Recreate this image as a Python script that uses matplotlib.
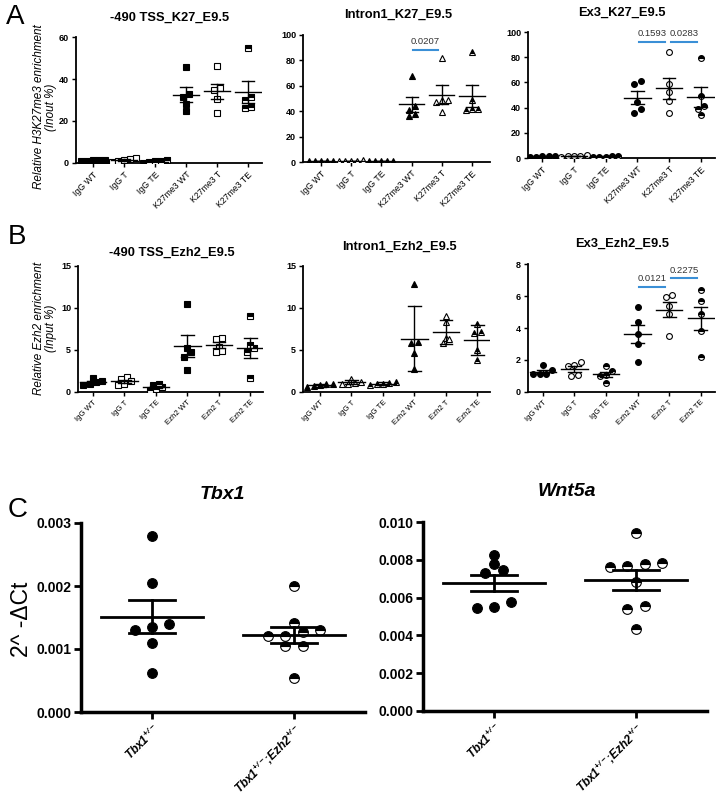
import numpy as np
import matplotlib
matplotlib.use("Agg")
import matplotlib.pyplot as plt

plt.rcParams['font.family'] = ['Liberation Sans', 'DejaVu Sans']
plt.rcParams['mathtext.fontset'] = 'custom'
plt.rcParams['mathtext.rm'] = 'Liberation Sans'
plt.rcParams['mathtext.it'] = 'Liberation Sans:italic:bold'
plt.rcParams['mathtext.bf'] = 'Liberation Sans:bold'

# ---------------- data ----------------
cats_A = ["IgG WT", "IgG T", "IgG TE", "K27me3 WT", "K27me3 T", "K27me3 TE"]
cats_B = ["IgG WT", "IgG T", "IgG TE", "Ezh2 WT", "Ezh2 T", "Ezh2 TE"]

A1_vals = [[1.5, 1.2, 1.0, 0.8, 1.3], [2.2, 1.8, 1.5, 0.5, 1.0], [1.2, 0.9, 0.3, 0.2, 0.8],
           [45.5, 33, 31.5, 28, 25], [46, 35.5, 35, 30.5, 24], [55, 31.5, 30, 26, 26.5]]
A2_vals = [[0.8, 0.6, 0.5, 0.4, 0.7], [1.2, 0.9, 0.7, 0.5, 1.0], [0.9, 0.7, 0.6, 0.5, 0.8],
           [68, 44, 41, 37.5, 36], [82, 48.5, 47.5, 48.5, 39], [86.5, 48.5, 41.5, 41, 42]]
A3_vals = [[1.5, 1.2, 1.0, 0.9, 1.3], [2.2, 1.9, 1.6, 0.5, 1.8], [1.4, 1.2, 1.1, 0.9, 1.0],
           [59, 61.5, 44.5, 36, 38.5], [84.5, 58.5, 52, 45, 36], [79, 49.5, 41.5, 39, 34.5]]
B1_vals = [[1.65, 1.25, 1.15, 0.9, 0.8], [1.8, 1.5, 1.3, 1.0, 0.8], [0.9, 0.8, 0.3, 0.2, 0.6],
           [10.5, 5.2, 4.8, 4.2, 2.6], [6.4, 6.3, 5.4, 4.9, 4.8], [9.0, 5.6, 5.2, 4.8, 1.7]]
B2_vals = [[1.0, 0.9, 0.8, 0.6, 0.7], [1.5, 1.2, 1.1, 0.9, 1.0], [1.2, 1.1, 1.0, 0.8, 0.9],
           [12.8, 5.9, 5.8, 4.6, 2.7], [9.0, 8.3, 6.4, 6.3, 5.8], [8.1, 7.1, 7.0, 5.0, 3.8]]
B3_vals = [[1.7, 1.35, 1.15, 1.1, 1.1], [1.85, 1.7, 1.6, 1.05, 1.0], [1.6, 1.3, 1.05, 1.0, 0.55],
           [5.3, 4.35, 3.65, 3.0, 1.85], [6.05, 5.95, 5.35, 4.9, 3.5], [6.4, 5.7, 4.9, 3.8, 2.2]]

sig_A2 = [("0.0207", 3, 4, 88)]
sig_A3 = [("0.1593", 3, 4, 92), ("0.0283", 4, 5, 92)]
sig_B3 = [("0.0121", 3, 4, 6.55), ("0.2275", 4, 5, 7.1)]

cats_C = [r"Tbx1$^{\mathregular{+/-}}$", r"Tbx1$^{\mathregular{+/-}}$;Ezh2$^{\mathregular{+/-}}$"]
C1_vals = [[0.0028, 0.00204, 0.0014, 0.00135, 0.0013, 0.00109, 0.00062],
           [0.002, 0.00142, 0.0013, 0.00127, 0.00121, 0.00121, 0.00104, 0.00104, 0.00054]]
C2_vals = [[0.00823, 0.00776, 0.00747, 0.00728, 0.00575, 0.0055, 0.00547],
           [0.00944, 0.00782, 0.00769, 0.0076, 0.0078, 0.0068, 0.00557, 0.00541, 0.00432]]

W, H = 720, 797
fig = plt.figure(figsize=(W / 100, H / 100), dpi=100)


def axpx(l, r, t, b):
    return fig.add_axes([l / W, 1 - b / H, (r - l) / W, (b - t) / H])


def swarm(vals, thresh, step):
    vals = np.asarray(vals, float)
    order = np.argsort(vals)
    offs = np.zeros(len(vals))
    clusters = []
    cur = [order[0]]
    for i in order[1:]:
        if vals[i] - vals[cur[0]] < thresh:
            cur.append(i)
        else:
            clusters.append(cur)
            cur = [i]
    clusters.append(cur)
    for c in clusters:
        k = len(c)
        for j, idx in enumerate(c):
            offs[idx] = (j - (k - 1) / 2) * step
    return offs


def style(kind):
    if kind == 0:
        return dict(markerfacecolor='black', markeredgecolor='black')
    if kind == 1:
        return dict(markerfacecolor='white', markeredgecolor='black')
    return dict(markerfacecolor='black', markeredgecolor='black', fillstyle='top',
                markerfacecoloralt='white')


def dot_panel(ax, groups, cats, ylim, yticks, marker, xlim, err='sem', kinds=None,
              ms=4.2, lw=1.0, mw=0.42, cw=0.2, step=0.2, tfrac=0.04, fs=6.3, yfs=6.5,
              spine_lw=1.3):
    for i, g in enumerate(groups):
        g = np.asarray(g, float)
        offs = swarm(g, tfrac * (ylim[1] - ylim[0]), step)
        k = kinds[i] if kinds else i % 3
        ax.plot(i + offs, g, linestyle='none', marker=marker, markersize=ms,
                markeredgewidth=0.8, zorder=3, **style(k))
        m = g.mean()
        e = g.std(ddof=1) / (np.sqrt(len(g)) if err == 'sem' else 1)
        ax.plot([i - mw, i + mw], [m, m], color='black', lw=lw, zorder=4)
        ax.plot([i, i], [m - e, m + e], color='black', lw=lw, zorder=4)
        ax.plot([i - cw, i + cw], [m + e, m + e], color='black', lw=lw, zorder=4)
        ax.plot([i - cw, i + cw], [m - e, m - e], color='black', lw=lw, zorder=4)
    ax.set_xlim(*xlim)
    ax.set_ylim(*ylim)
    ax.set_yticks(yticks)
    ax.set_xticks(range(len(cats)))
    ax.set_xticklabels(cats, rotation=45, ha='right', rotation_mode='anchor', fontsize=fs)
    for t in ax.get_yticklabels():
        t.set_fontsize(yfs)
        t.set_fontweight('bold')
    for s in ['top', 'right']:
        ax.spines[s].set_visible(False)
    for s in ['left', 'bottom']:
        ax.spines[s].set_linewidth(spine_lw)
    ax.tick_params(width=spine_lw * 0.8, length=3, pad=2)
    ax.patch.set_alpha(0)


def sig(ax, items, yr):
    for txt, a, b, y in items:
        x0, x1 = a + 0.05, b - 0.12
        ax.plot([x0, x1], [y, y], color='#3a8fd6', lw=1.5, clip_on=False)
        ax.text((x0 + x1) / 2, y + 0.03 * yr, txt, ha='center', va='bottom',
                fontsize=6.8, color='#333333', clip_on=False)


# ---- Panel A ----
a1 = axpx(76, 262, 37, 163)
dot_panel(a1, A1_vals, cats_A, (0, 60), [0, 20, 40, 60], 's', (-0.55, 5.45))
a2 = axpx(303, 490, 35, 162)
dot_panel(a2, A2_vals, cats_A, (0, 100), range(0, 101, 20), '^', (-0.6, 5.6))
sig(a2, sig_A2, 100)
a3 = axpx(528, 715, 32, 158)
dot_panel(a3, A3_vals, cats_A, (0, 100), range(0, 101, 20), 'o', (-0.45, 5.45))
sig(a3, sig_A3, 100)

# ---- Panel B ----
b1 = axpx(78, 263, 266, 392)
dot_panel(b1, B1_vals, cats_B, (0, 15), [0, 5, 10, 15], 's', (-0.47, 5.4), fs=5.6)
b2 = axpx(303, 490, 266, 392)
dot_panel(b2, B2_vals, cats_B, (0, 15), [0, 5, 10, 15], '^', (-0.54, 5.4), err='sd', fs=5.6)
b3 = axpx(528, 715, 264, 392)
dot_panel(b3, B3_vals, cats_B, (0, 8), [0, 2, 4, 6, 8], 'o', (-0.47, 5.45), fs=5.6)
sig(b3, sig_B3, 8)

# ---- Panel C ----
c1 = axpx(81, 365, 523, 712)
dot_panel(c1, C1_vals, cats_C, (0, 0.003), [0, 0.001, 0.002, 0.003], 'o', (-0.5, 1.5),
          kinds=[0, 2], ms=7, lw=2, mw=0.36, cw=0.165, step=0.12, tfrac=0.035,
          fs=8.5, yfs=10, spine_lw=2.5)
c2 = axpx(423, 707, 522, 711)
dot_panel(c2, C2_vals, cats_C, (0, 0.010), [0, 0.002, 0.004, 0.006, 0.008, 0.010], 'o',
          (-0.5, 1.5), kinds=[0, 2], ms=7, lw=2, mw=0.36, cw=0.165, step=0.12,
          tfrac=0.035, fs=8.5, yfs=10, spine_lw=2.5)
for ax in (c1, c2):
    ax.yaxis.set_major_formatter(matplotlib.ticker.FormatStrFormatter('%.3f'))
    for t in ax.get_xticklabels():
        t.set_fontweight('bold')
        t.set_fontstyle('italic')
    for t in ax.get_yticklabels():
        t.set_fontsize(10)
        t.set_fontweight('bold')
    ax.tick_params(length=5, pad=2)


def ftext(x, y, s, **kw):
    fig.text(x / W, 1 - y / H, s, **kw)


# titles
ftext(170, 18, "-490 TSS_K27_E9.5", ha='center', va='center', fontsize=9.3, fontweight='bold')
ftext(398, 15, "Intron1_K27_E9.5", ha='center', va='center', fontsize=9.3, fontweight='bold')
ftext(622, 13, "Ex3_K27_E9.5", ha='center', va='center', fontsize=9.3, fontweight='bold')
ftext(172, 253, "-490 TSS_Ezh2_E9.5", ha='center', va='center', fontsize=9.3, fontweight='bold')
ftext(399, 247, "Intron1_Ezh2_E9.5", ha='center', va='center', fontsize=9.3, fontweight='bold')
ftext(622, 244, "Ex3_Ezh2_E9.5", ha='center', va='center', fontsize=9.3, fontweight='bold')
ftext(222, 495, "Tbx1", ha='center', va='center', fontsize=14, fontweight='bold', fontstyle='italic')
ftext(567, 492, "Wnt5a", ha='center', va='center', fontsize=14, fontweight='bold', fontstyle='italic')

# panel letters
ftext(6, 17, "A", ha='left', va='center', fontsize=20)
ftext(8, 237, "B", ha='left', va='center', fontsize=20)
ftext(8, 510, "C", ha='left', va='center', fontsize=20)

# y labels
ftext(45, 107, "Relative H3K27me3 enrichment\n(Inout %)", rotation=90, ha='center', va='center',
      fontsize=8.4, fontstyle='italic', multialignment='center', linespacing=1.1)
ftext(45, 328, "Relative Ezh2 enrichment\n(Input %)", rotation=90, ha='center', va='center',
      fontsize=8.4, fontstyle='italic', multialignment='center', linespacing=1.1)
ftext(22, 619, "2^ -ΔCt", rotation=90, ha='center', va='center', fontsize=16.5)

fig.savefig("out.png", dpi=100)
